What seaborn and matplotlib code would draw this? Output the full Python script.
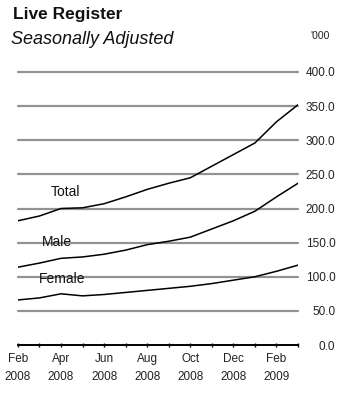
import pandas as pd
import matplotlib.pyplot as plt
import seaborn as sns

months = ['Feb 2008', 'Mar 2008', 'Apr 2008', 'May 2008', 'Jun 2008', 'Jul 2008',
          'Aug 2008', 'Sep 2008', 'Oct 2008', 'Nov 2008', 'Dec 2008', 'Jan 2009',
          'Feb 2009', 'Mar 2009']
total = [182, 189, 200, 201, 207, 217, 228, 237, 245, 262, 279, 296, 327, 352]
male = [114, 120, 127, 129, 133, 139, 147, 152, 158, 170, 182, 196, 217, 237]
female = [66, 69, 75, 72, 74, 77, 80, 83, 86, 90, 95, 100, 108, 117]
tick_labels = ['Feb\n2008', 'Apr\n2008', 'Jun\n2008', 'Aug\n2008',
               'Oct\n2008', 'Dec\n2008', 'Feb\n2009']
y_ticks = [0, 50, 100, 150, 200, 250, 300, 350, 400]

sns.set_style('white')
plt.rcParams['font.family'] = ['Liberation Sans', 'DejaVu Sans']

df = pd.DataFrame({
    'month': list(range(len(months))) * 3,
    'value': total + male + female,
    'series': ['Total'] * len(months) + ['Male'] * len(months) + ['Female'] * len(months),
})

fig = plt.figure(figsize=(3.51, 4.0), dpi=100)
ax = fig.add_axes([0.051, 0.1375, 0.798, 0.6825])

for v in y_ticks[1:]:
    ax.axhline(v, color='#939393', lw=1.6, zorder=1, clip_on=False)

sns.lineplot(data=df, x='month', y='value', hue='series',
             palette=['black', 'black', 'black'], linewidth=1.1,
             legend=False, ax=ax, zorder=3)

ax.set_xlim(0, len(months) - 1)
ax.set_ylim(0, 400)
for s in ['top', 'left', 'right']:
    ax.spines[s].set_visible(False)
ax.spines['bottom'].set_color('black')
ax.spines['bottom'].set_linewidth(1.4)

ax.set_xticks(range(0, len(months), 2))
ax.set_xticklabels(tick_labels, fontsize=8.5, color='#222222', linespacing=1.75)
ax.set_xticks(range(len(months)), minor=True)
ax.tick_params(axis='x', which='both', direction='inout', length=3, width=1,
               color='black', pad=4, bottom=True)

ax.yaxis.tick_right()
ax.set_yticks(y_ticks)
ax.set_yticklabels([f'{v:.1f}' for v in y_ticks], fontsize=8.5, color='#222222')
for lab in ax.get_yticklabels():
    lab.set_horizontalalignment('right')
ax.tick_params(axis='y', length=0, pad=27)
ax.set_xlabel('')
ax.set_ylabel('')

ax.text(2.2, 224, 'Total', fontsize=10, color='#111111', ha='center', va='center')
ax.text(1.8, 151, 'Male', fontsize=10, color='#111111', ha='center', va='center')
ax.text(2.05, 97, 'Female', fontsize=10, color='#111111', ha='center', va='center')

fig.text(13 / 351, 1 - 15 / 400, 'Live Register', fontsize=12.5, fontweight='bold',
         ha='left', va='center', color='#111111')
fig.text(11 / 351, 1 - 40 / 400, 'Seasonally Adjusted', fontsize=13, style='italic',
         ha='left', va='center', color='#111111')
fig.text(320 / 351, 1 - 36 / 400, "'000", fontsize=7.5, ha='center', va='center',
         color='#222222')

fig.savefig('out.png', dpi=100)
